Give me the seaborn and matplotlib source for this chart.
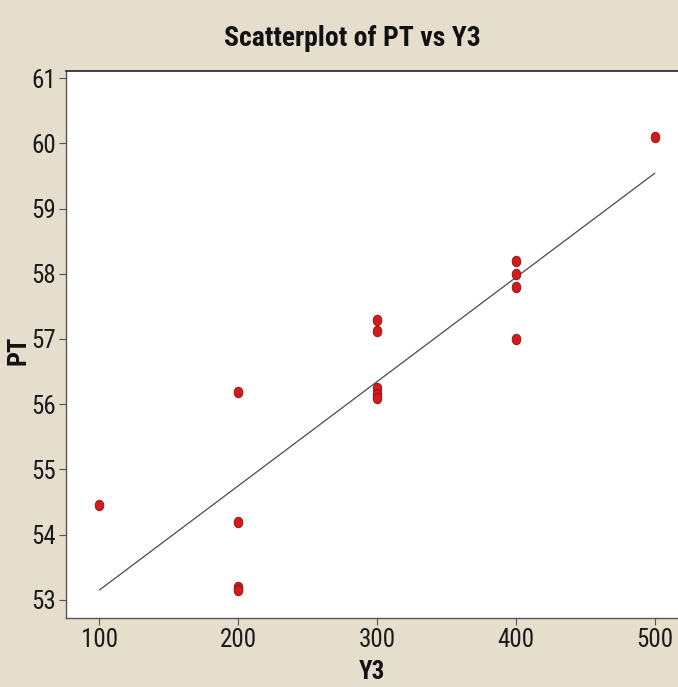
import matplotlib
matplotlib.use("Agg")
import matplotlib.pyplot as plt
from matplotlib.path import Path
from matplotlib.transforms import Affine2D
from matplotlib import font_manager
import seaborn as sns
import pandas as pd

# Observations: Y3 level and measured PT
y3 = [100, 200, 200, 200, 200, 300, 300, 300, 300, 300, 400, 400, 400, 400, 500]
pt = [54.45, 56.18, 54.2, 53.2, 53.15, 57.29, 57.12, 56.25, 56.15, 56.1,
      58.2, 58.0, 57.8, 57.0, 60.1]
x_ticks = [100, 200, 300, 400, 500]
y_ticks = [53, 54, 55, 56, 57, 58, 59, 60, 61]

df = pd.DataFrame({"Y3": y3, "PT": pt})

sns.set_theme(style="white")
names = {f.name for f in font_manager.fontManager.ttflist}
fam = next((n for n in ["Roboto Condensed", "Open Sans Condensed",
                        "Liberation Sans Narrow", "Liberation Sans"]
            if n in names), "DejaVu Sans")
plt.rcParams["font.family"] = [fam, "DejaVu Sans"]

bg = "#E5DECD"
fig = plt.figure(figsize=(6.78, 6.87), dpi=100, facecolor=bg)
ax = fig.add_axes([66 / 678, 69 / 687, 620 / 678, 547 / 687])
ax.set_facecolor("white")

# fitted least-squares line over the observed range
sns.regplot(data=df, x="Y3", y="PT", scatter=False, ci=None, ax=ax,
            line_kws={"color": "#4a4a4a", "lw": 0.9})

# slightly tall oval markers
oval = Path.unit_circle().transformed(Affine2D().scale(0.82, 1.0))
sns.scatterplot(data=df, x="Y3", y="PT", ax=ax, marker=oval, s=58,
                color="#D41A1A", edgecolor="#8a1010", linewidth=0.6, zorder=3)

ax.set_xlim(75.9, 522.5)
ax.set_ylim(52.72, 61.11)
ax.set_xticks(x_ticks)
ax.set_yticks(y_ticks)
ax.tick_params(axis="both", which="major", length=5, width=0.8, color="#555555",
               labelsize=18, labelcolor="#1a1a1a", pad=2, direction="out")
ax.tick_params(left=True, bottom=True)

for side in ["left", "bottom"]:
    ax.spines[side].set_color("#555555")
    ax.spines[side].set_linewidth(1.0)
ax.spines["top"].set_color("#222222")
ax.spines["top"].set_linewidth(1.2)
ax.spines["right"].set_visible(False)

ax.set_xlabel("Y3", fontsize=18, fontweight="bold", color="#111111", va="center")
ax.xaxis.set_label_coords(0.494, -0.099)
ax.set_ylabel("PT", fontsize=19, fontweight="bold", color="#111111", va="center")
ax.yaxis.set_label_coords(-0.077, 0.49)
fig.suptitle("Scatterplot of PT vs Y3", x=0.52, y=0.963, fontsize=20,
             fontweight="bold", color="#111111")

fig.savefig("out.png", dpi=100, facecolor=bg)
